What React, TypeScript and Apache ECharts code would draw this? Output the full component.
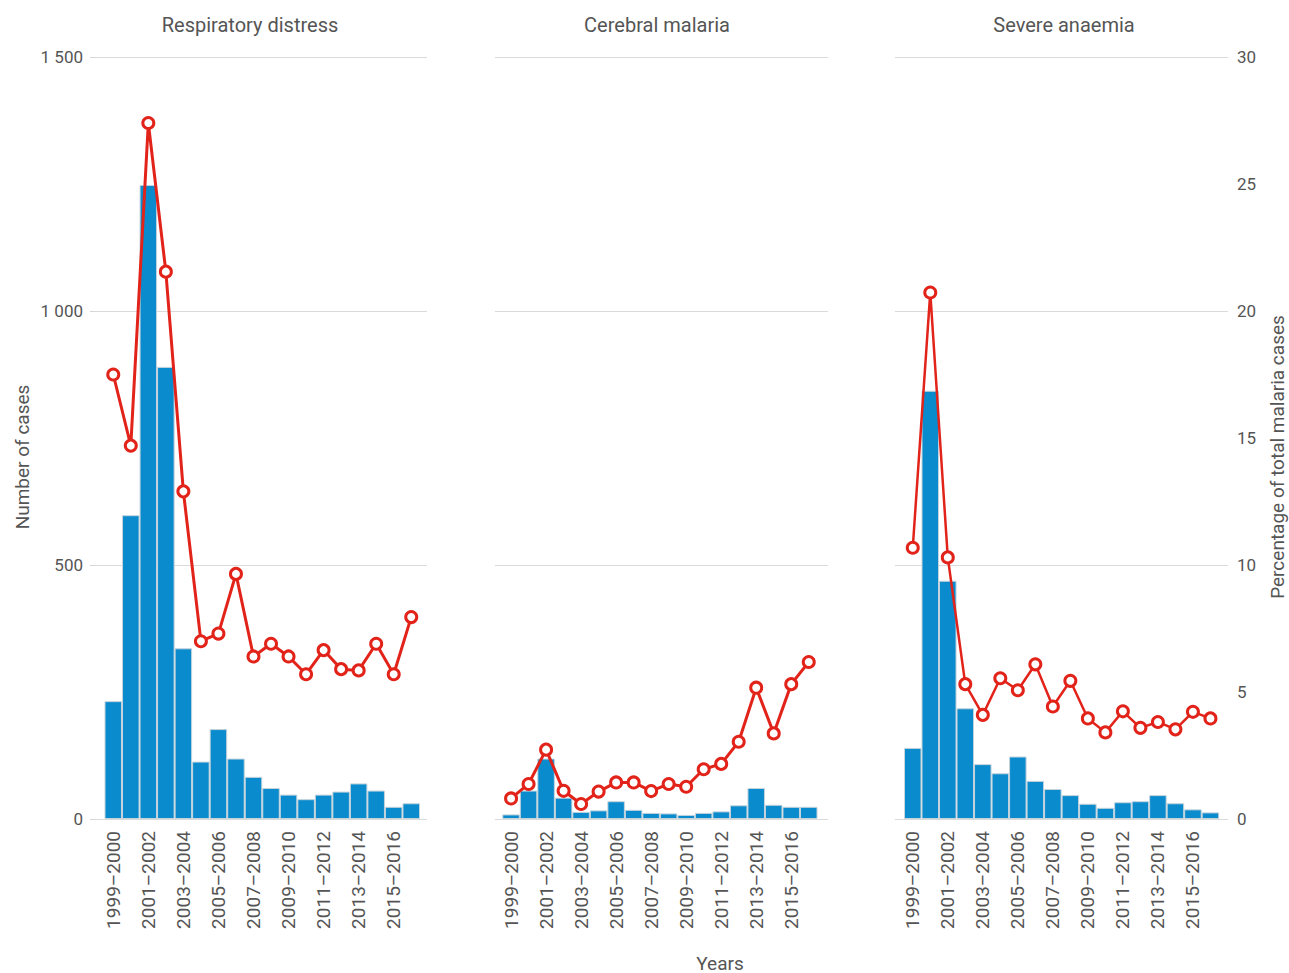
import React, { useEffect, useRef } from "react";
import * as echarts from "echarts";

const categories = [
  "1999–2000", "2000–2001", "2001–2002", "2002–2003", "2003–2004", "2004–2005",
  "2005–2006", "2006–2007", "2007–2008", "2008–2009", "2009–2010", "2010–2011",
  "2011–2012", "2012–2013", "2013–2014", "2014–2015", "2015–2016", "2016–2017",
];

const panelTitles = ["Respiratory distress", "Cerebral malaria", "Severe anaemia"];

const respCases = [232, 598, 1248, 890, 336, 113, 177, 119, 83, 61, 48, 39, 48, 54, 70, 56, 24, 31];
const respPct = [17.5, 14.7, 27.4, 21.55, 12.9, 7.0, 7.3, 9.65, 6.4, 6.9, 6.4, 5.7, 6.65, 5.9, 5.85, 6.9, 5.7, 7.95];

const cereCases = [9, 56, 119, 42, 14, 17, 35, 18, 12, 11, 8, 12, 15, 27, 61, 28, 24, 24];
const cerePct = [0.81, 1.38, 2.73, 1.11, 0.59, 1.08, 1.44, 1.44, 1.1, 1.38, 1.27, 1.96, 2.17, 3.04, 5.17, 3.37, 5.31, 6.18];

const anaeCases = [140, 843, 469, 218, 108, 90, 123, 75, 59, 47, 30, 22, 33, 35, 47, 31, 19, 13];
const anaePct = [10.68, 20.73, 10.3, 5.31, 4.1, 5.54, 5.07, 6.09, 4.43, 5.44, 3.96, 3.41, 4.24, 3.59, 3.82, 3.53, 4.22, 3.96];

const casesTicks = { min: 0, max: 1500, interval: 500 };
const pctTicks = { min: 0, max: 30, interval: 5 };

const FONT = "Roboto";
const TXT = "#555";
const BAR = "#0a8bcd";
const RED = "#e2231a";

export default function App() {
  const ref = useRef<HTMLDivElement>(null);
  useEffect(() => {
    if (!ref.current) return;
    const chart = echarts.init(ref.current, undefined, { renderer: "svg" });
    const casesData = [respCases, cereCases, anaeCases];
    const pctData = [respPct, cerePct, anaePct];
    const bgGrids = [
      { left: 95, width: 332 },
      { left: 495, width: 333 },
      { left: 895, width: 333 },
    ];
    const dataGrids = [
      { left: 104.5, width: 315.5 },
      { left: 502.3, width: 315.2 },
      { left: 904, width: 315.2 },
    ];
    const grid: any[] = [];
    bgGrids.forEach((g) => grid.push({ ...g, top: 57, height: 762 }));
    dataGrids.forEach((g) => grid.push({ ...g, top: 57, height: 762 }));

    const fmtCases = (v: number) =>
      v >= 1000 ? `${Math.floor(v / 1000)} ${String(v % 1000).padStart(3, "0")}` : String(v);

    const xAxis: any[] = [];
    for (let i = 0; i < 3; i++) {
      xAxis.push({ type: "value", gridIndex: i, show: false, min: 0, max: 1 });
    }
    for (let i = 0; i < 3; i++) {
      xAxis.push({
        type: "category",
        gridIndex: 3 + i,
        data: categories,
        boundaryGap: true,
        axisLine: { show: false },
        axisTick: { show: false },
        axisLabel: {
          rotate: 90,
          interval: 1,
          margin: 12,
          fontFamily: FONT,
          fontSize: 19,
          color: TXT,
        },
      });
    }

    const yAxis: any[] = [];
    for (let i = 0; i < 3; i++) {
      yAxis.push({
        type: "value",
        gridIndex: i,
        ...casesTicks,
        axisLine: { show: false },
        axisTick: { show: i === 0, length: 5, lineStyle: { color: "#d6d6d6" } },
        axisLabel: {
          show: i === 0,
          margin: 12,
          fontFamily: FONT,
          fontSize: 17,
          color: TXT,
          formatter: fmtCases,
        },
        splitLine: { show: true, lineStyle: { color: "#dadada", width: 1 } },
      });
    }
    // right percentage axis (index 3)
    yAxis.push({
      type: "value",
      gridIndex: 2,
      position: "right",
      ...pctTicks,
      axisLine: { show: false },
      axisTick: { show: false },
      axisLabel: { margin: 9, fontFamily: FONT, fontSize: 17, color: TXT },
      splitLine: { show: false },
    });
    // hidden data axes (index 4..9)
    for (let i = 0; i < 3; i++) {
      yAxis.push({ type: "value", gridIndex: 3 + i, ...casesTicks, show: false, splitLine: { show: false } });
      yAxis.push({ type: "value", gridIndex: 3 + i, ...pctTicks, show: false, splitLine: { show: false } });
    }

    const series: any[] = [];
    for (let i = 0; i < 3; i++) {
      series.push({
        type: "bar",
        xAxisIndex: 3 + i,
        yAxisIndex: 4 + i * 2,
        data: casesData[i],
        barCategoryGap: "0%",
        itemStyle: { color: BAR, borderColor: "#c5d3dc", borderWidth: 1 },
        z: 2,
      });
      series.push({
        type: "line",
        xAxisIndex: 3 + i,
        yAxisIndex: 5 + i * 2,
        data: pctData[i],
        symbol: "circle",
        symbolSize: 11,
        lineStyle: { color: RED, width: i === 2 ? 2.5 : 3 },
        itemStyle: { color: "#fff", borderColor: RED, borderWidth: 3 },
        z: 5,
      });
    }

    const titleCenters = [250, 657, 1064];
    const graphic: any[] = titleCenters.map((x, i) => ({
      type: "text",
      x,
      y: 25,
      style: {
        text: panelTitles[i],
        fontFamily: FONT,
        fontSize: 20,
        fill: TXT,
        textAlign: "center",
        textVerticalAlign: "middle",
      },
    }));
    graphic.push({
      type: "text",
      x: 22,
      y: 457,
      rotation: Math.PI / 2,
      style: {
        text: "Number of cases",
        fontFamily: FONT,
        fontSize: 19,
        fill: TXT,
        textAlign: "center",
        textVerticalAlign: "middle",
      },
    });
    graphic.push({
      type: "text",
      x: 1277,
      y: 457,
      rotation: Math.PI / 2,
      style: {
        text: "Percentage of total malaria cases",
        fontFamily: FONT,
        fontSize: 19,
        fill: TXT,
        textAlign: "center",
        textVerticalAlign: "middle",
      },
    });
    graphic.push({
      type: "text",
      x: 720,
      y: 963,
      style: {
        text: "Years",
        fontFamily: FONT,
        fontSize: 19,
        fill: TXT,
        textAlign: "center",
        textVerticalAlign: "middle",
      },
    });

    chart.setOption({
      animation: false,
      backgroundColor: "#fff",
      grid,
      xAxis,
      yAxis,
      series,
      graphic,
    });
    return () => chart.dispose();
  }, []);
  return (
    <div
      ref={ref}
      style={{ position: "fixed", left: 0, top: 0, width: 1289, height: 973 }}
    />
  );
}
